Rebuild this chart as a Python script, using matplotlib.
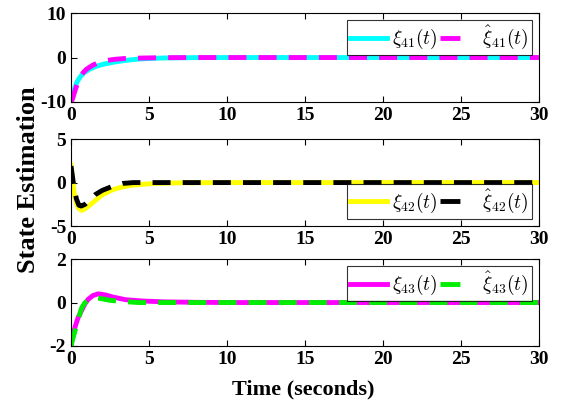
import numpy as np
import matplotlib.pyplot as plt

plt.rcParams['font.family'] = ['Liberation Serif', 'DejaVu Serif']
plt.rcParams['font.weight'] = 'bold'
plt.rcParams['mathtext.fontset'] = 'cm'

# values
t1 = [0, 0.1, 0.26, 0.4, 0.58, 0.8, 1.2, 1.6, 2.07, 2.8, 3.6, 4.3, 5.1, 6, 8, 10, 30]
xi41 = [-10, -8.3, -6.6, -5.4, -4.4, -3.5, -2.6, -2.0, -1.5, -1.0, -0.6, -0.35, -0.2, -0.1, -0.03, 0, 0]
t1h = [0, 0.1, 0.25, 0.4, 0.6, 0.8, 1.0, 1.4, 1.8, 2.2, 2.8, 3.5, 4.7, 6, 8, 30]
xi41_hat = [-10, -9.3, -7.5, -6, -4.3, -3.3, -2.6, -1.7, -1.1, -0.7, -0.4, -0.2, -0.1, -0.03, 0, 0]

t2 = [0, 0.1, 0.2, 0.35, 0.5, 0.7, 0.9, 1.2, 1.6, 2, 2.7, 3.3, 3.9, 5.3, 7, 10, 30]
xi42 = [2, 0.3, -1.2, -2.4, -3.0, -3.2, -3.0, -2.6, -2.0, -1.4, -0.8, -0.5, -0.3, -0.1, -0.03, 0, 0]
t2h = [0, 0.1, 0.2, 0.35, 0.5, 0.65, 0.9, 1.2, 1.54, 2, 2.7, 3.3, 4, 30]
xi42_hat = [1.9, 0.6, -0.7, -1.9, -2.6, -2.7, -2.5, -2.0, -1.4, -0.9, -0.4, -0.1, 0, 0]

t3 = [0, 0.1, 0.26, 0.45, 0.68, 0.9, 1.1, 1.4, 1.75, 2.2, 2.7, 3.5, 4.6, 6, 8, 10, 30]
xi43 = [-2, -1.6, -1.12, -0.7, -0.36, -0.05, 0.15, 0.32, 0.4, 0.35, 0.25, 0.13, 0.07, 0.03, 0.01, 0, 0]
t3h = [0, 0.1, 0.26, 0.45, 0.68, 0.9, 1.2, 1.6, 2.0, 2.5, 3.1, 4.3, 30]
xi43_hat = [-2, -1.7, -1.3, -0.8, -0.25, 0.0, 0.15, 0.22, 0.17, 0.1, 0.06, 0, 0]

panels = [
    (t1, xi41, t1h, xi41_hat, 'cyan', 'magenta', '41', (-10, 10), [-10, 0, 10], 'upper right'),
    (t2, xi42, t2h, xi42_hat, 'yellow', 'black', '42', (-5, 5), [-5, 0, 5], 'lower right'),
    (t3, xi43, t3h, xi43_hat, 'magenta', '#00ee00', '43', (-2, 2), [-2, 0, 2], 'upper right'),
]
boxes = [(0.1266, 0.750, 0.834, 0.218),
         (0.1266, 0.446, 0.834, 0.213),
         (0.1266, 0.152, 0.834, 0.213)]

fig = plt.figure(figsize=(5.61, 4.08), dpi=100)
for (t, y, th, yh, c1, c2, idx, ylim, yt, loc), box in zip(panels, boxes):
    ax = fig.add_axes(box)
    ax.plot(t, y, color=c1, lw=3.5, label=r'$\xi_{%s}(t)$' % idx)
    ax.plot(th, yh, color=c2, lw=3.5, linestyle=(0, (3.7, 2.5)),
            label=r'$\hat{\xi}_{%s}(t)$' % idx)
    ax.set_xlim(0, 30)
    ax.set_ylim(*ylim)
    ax.set_yticks(yt)
    ax.set_xticks([0, 5, 10, 15, 20, 25, 30])
    ax.set_yticklabels([str(v) for v in yt])
    ax.tick_params(direction='in', top=True, right=True, labelsize=14, length=4)
    for sp in ax.spines.values():
        sp.set_linewidth(0.8)
    leg = ax.legend(loc=loc, ncol=2, fontsize=14, frameon=True, fancybox=False,
                    edgecolor='black', handlelength=1.9, columnspacing=0.1,
                    borderaxespad=0.35, handletextpad=0.25, borderpad=0.2)
    leg.get_frame().set_linewidth(0.8)
    # one dash then a gap in the legend sample
    leg.get_lines()[1].set_linestyle((0, (4.1, 4.0)))

fig.text(0.05, 0.56, 'State Estimation', rotation=90, fontsize=19,
         fontweight='bold', ha='center', va='center')
fig.text(0.54, 0.045, 'Time (seconds)', fontsize=16, fontweight='bold',
         ha='center', va='center')

fig.savefig('out.png', dpi=100)
